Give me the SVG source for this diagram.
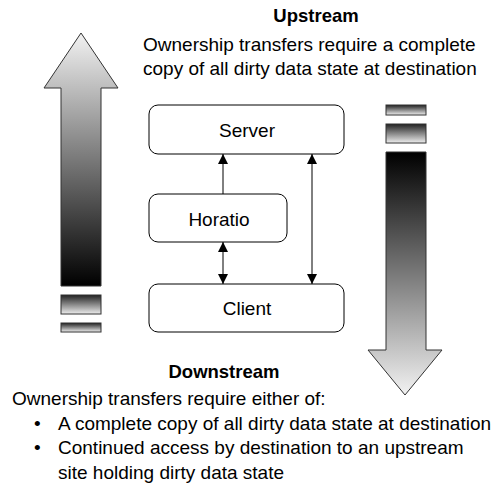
<svg xmlns="http://www.w3.org/2000/svg" width="498" height="487" viewBox="0 0 498 487">
<defs>
<linearGradient id="gUp" x1="0" y1="0" x2="0" y2="1"><stop offset="0" stop-color="#f2f2f2"/><stop offset="1" stop-color="#000"/></linearGradient>
<linearGradient id="gDown" x1="0" y1="0" x2="0" y2="1"><stop offset="0" stop-color="#000"/><stop offset="1" stop-color="#f2f2f2"/></linearGradient>
<linearGradient id="gBar" x1="0" y1="0" x2="0" y2="1"><stop offset="0" stop-color="#222"/><stop offset="1" stop-color="#eee"/></linearGradient>
<marker id="ah" viewBox="0 0 10 10" refX="10" refY="5" markerWidth="10" markerHeight="10" markerUnits="userSpaceOnUse" orient="auto-start-reverse"><path d="M0,0 L10,5 L0,10 z" fill="#000"/></marker>
<style>
.box{fill:#fff;stroke:#000;stroke-width:1}
.lbl{font-family:"Liberation Sans",Arial,sans-serif;font-size:19px;fill:#000;text-anchor:middle}
.t{font-family:"Liberation Sans",Arial,sans-serif;font-size:19px;fill:#000}
.b{font-weight:bold;text-anchor:middle;font-size:18.5px}
.arrow{stroke:#333;stroke-width:1}
.bar{fill:url(#gBar);stroke:#333;stroke-width:1}
.conn{stroke:#000;stroke-width:1;fill:none}
</style>
</defs>
<g id="upArrow">
<path class="arrow" fill="url(#gUp)" d="M81,33 L118,88 L101,88 L101,286 L61,286 L61,88 L44,88 Z"/>
<rect class="bar" x="61" y="295" width="40" height="19"/>
<rect class="bar" x="61" y="323" width="40" height="9"/>
</g>
<g id="downArrow">
<rect class="bar" x="386" y="105" width="40" height="10"/>
<rect class="bar" x="386" y="124" width="40" height="19"/>
<path class="arrow" fill="url(#gDown)" d="M386,152 L426,152 L426,350 L442,350 L405,395 L368,350 L386,350 Z"/>
</g>
<g id="server"><rect class="box" x="149" y="105" width="195" height="49" rx="9"/><text class="lbl" x="247" y="137">Server</text></g>
<g id="horatio"><rect class="box" x="149" y="194" width="138" height="48" rx="9"/><text class="lbl" x="219" y="226">Horatio</text></g>
<g id="client"><rect class="box" x="149" y="284" width="195" height="48" rx="9"/><text class="lbl" x="247" y="315">Client</text></g>
<g id="connectors">
<line class="conn" x1="223" y1="194" x2="223" y2="154" marker-end="url(#ah)"/>
<line class="conn" x1="223" y1="242" x2="223" y2="284" marker-start="url(#ah)" marker-end="url(#ah)"/>
<line class="conn" x1="312" y1="154" x2="312" y2="284" marker-start="url(#ah)" marker-end="url(#ah)"/>
</g>
<g id="text">
<text class="t b" x="316" y="22">Upstream</text>
<text class="t" x="143" y="51">Ownership transfers require a complete</text>
<text class="t" x="143" y="75">copy of all dirty data state at destination</text>
<text class="t b" x="224" y="378">Downstream</text>
<text class="t" x="12" y="405">Ownership transfers require either of:</text>
<text class="t" x="34" y="429.5">•</text>
<text class="t" x="58" y="429.5">A complete copy of all dirty data state at destination</text>
<text class="t" x="34" y="454">•</text>
<text class="t" x="58" y="454">Continued access by destination to an upstream</text>
<text class="t" x="58" y="478.5">site holding dirty data state</text>
</g>
</svg>
